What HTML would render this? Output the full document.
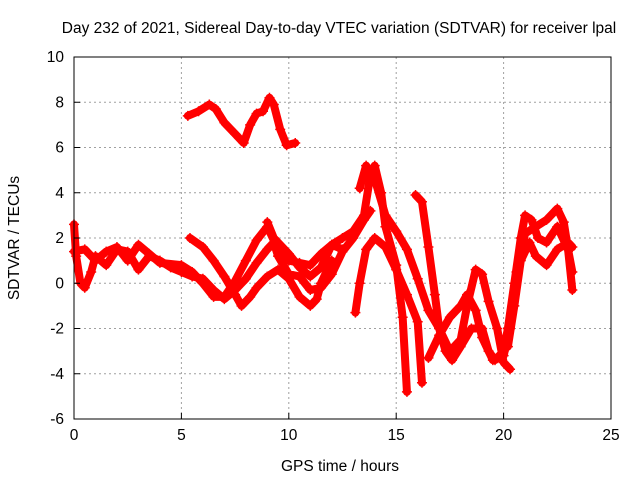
<!DOCTYPE html>
<html><head><meta charset="utf-8"><style>
body{margin:0;background:#fff;}
svg text{font-family:"Liberation Sans",sans-serif;font-size:15.5px;fill:#000;}
</style></head><body>
<svg width="640" height="480" xmlns="http://www.w3.org/2000/svg">
<rect width="640" height="480" fill="#fff"/>
<g id="grid"></g>
<g id="series"></g>
<rect x="74" y="57" width="537" height="362" fill="none" stroke="#000" stroke-width="1"/>
<g id="ticks"></g>
<text x="339" y="33" text-anchor="middle">Day 232 of 2021, Sidereal Day-to-day VTEC variation (SDTVAR) for receiver lpal</text>
<text x="340" y="471" text-anchor="middle">GPS time / hours</text>
<text x="19" y="238" text-anchor="middle" transform="rotate(-90 19 238)">SDTVAR / TECUs</text>
</svg>
<script>
const xTicks=[0,5,10,15,20,25];
const yTicks=[-6,-4,-2,0,2,4,6,8,10];
const track1=[[5.3,7.4],[5.8,7.6],[6.3,7.9],[6.6,7.7],[7.0,7.1],[7.5,6.6],[7.9,6.2],[8.2,7.0],[8.5,7.5],[8.8,7.6],[9.1,8.2],[9.3,7.9],[9.6,6.8],[9.9,6.1],[10.3,6.2]];
const track2=[[0,2.6],[0.1,1.2],[0.3,0],[0.5,-0.2],[0.8,0.5],[1,1.2],[1.5,0.8],[2,1.5],[2.5,1.4],[3,0.6],[3.5,1.2],[4,1.0],[4.5,0.7],[5,0.5],[5.5,0.3],[6,0.2],[6.5,-0.3],[7,-0.7],[7.5,-0.3],[8,0.2],[8.5,0.9],[9,1.5],[9.3,1.8],[9.5,1.2],[10,0.4],[10.5,0.3],[11,-0.3],[11.5,-0.2],[12,0.4],[12.5,1.4],[13,2.0],[13.5,2.8],[13.8,3.2]];
const track3=[[0,1.4],[0.5,1.5],[1,1.0],[1.5,1.4],[2,1.6],[2.5,1.0],[3,1.7],[3.5,1.3],[4,0.9],[5,0.8],[5.5,0.5],[6,0],[6.5,-0.6],[7,-0.6],[7.5,0.1],[8,1.0],[8.5,1.9],[9,2.5],[9.5,1.5],[10,1.0],[10.5,0.9],[11,0.8],[11.5,1.3],[12,1.7],[12.5,2.0],[13,2.3],[13.5,3.0],[13.8,4.8],[14,5.2],[14.3,4.0],[14.5,2.5],[15,0.8],[15.3,-1.5],[15.5,-4.8]];
const track4=[[5.4,2.0],[6,1.6],[6.5,1.0],[7,0.3],[7.5,-0.5],[7.8,-1.0],[8.2,-0.6],[8.5,-0.2],[9,0.3],[9.5,0.6],[10,0.2],[10.5,-0.6],[11,-1.0],[11.3,-0.7],[11.5,0.0],[12,1.0]];
const track5=[[9,2.7],[9.3,2.0],[10,1.3],[10.5,0.7],[11,0.3],[11.5,0.7],[12,1.7],[12.5,1.5]];
const track6=[[13.1,-1.3],[13.3,0],[13.6,1.5],[14,2.0],[14.5,1.6],[15,0.6],[15.5,-0.5],[16,-1.7],[16.2,-4.4]];
const track7=[[13.3,4.2],[13.6,5.2],[14,4.6],[14.5,3.0],[15,2.3],[15.5,1.5],[16,0.2],[16.5,-1.2],[17,-2.0],[17.3,-3.0],[17.6,-3.4],[18,-2.8],[18.5,-2.0],[19,-2.0],[19.3,-3.0],[19.6,-3.4],[20,-3.0],[20.2,-2.0],[20.5,0],[20.8,2.0],[21,3.0],[21.3,2.8],[21.6,2.0],[22,1.8],[22.5,2.5],[23,1.5],[23.2,0.5]];
const track8=[[15.9,3.9],[16.2,3.6],[16.5,1.6],[16.8,-0.5],[17,-2.0],[17.5,-3.0],[18,-2.5],[18.3,-1.0],[18.7,0.6],[19,0.4],[19.3,-0.8],[19.7,-2.0],[20,-3.5],[20.3,-3.8]];
const track9=[[16.5,-3.3],[17,-2.3],[17.5,-1.5],[18,-1.0],[18.3,-0.5],[18.7,-1.2],[19,-2.4],[19.5,-3.4],[20,-3.2],[20.3,-2.0],[20.6,0.5],[21,2.2],[21.5,2.5],[22,2.8],[22.5,3.3],[22.8,2.7],[23,1.5],[23.2,-0.3]];
const track10=[[20.2,-2.8],[20.5,-1],[20.8,1],[21.2,1.8],[21.5,1.2],[22,0.8],[22.5,1.5],[23,1.8],[23.2,1.6]];
const tracks=[track1,track2,track3,track4,track5,track6,track7,track8,track9,track10];

const X0=74,X1=611,Y0=419,Y1=57;
const sx=v=>X0+(v-0)/(25-0)*(X1-X0);
const sy=v=>Y0-(v+6)/16*(Y0-Y1);
const NS="http://www.w3.org/2000/svg";
const grid=document.getElementById('grid'),ticks=document.getElementById('ticks'),ser=document.getElementById('series');
function mk(tag,attrs,parent){const e=document.createElementNS(NS,tag);for(const k in attrs)e.setAttribute(k,attrs[k]);parent.appendChild(e);return e;}
xTicks.forEach(t=>{
  const x=sx(t);
  if(t>0&&t<25){const g=mk('line',{x1:x,x2:x,y1:Y0,y2:Y1,stroke:'#a0a0a0','stroke-dasharray':'2,3'},grid);
  
  }
  const tl=mk('line',{x1:x,x2:x,y1:Y0,y2:Y0-6,stroke:'#000'},ticks);
  
  
  const tx=mk('text',{x:x,y:Y0+21,'text-anchor':'middle'},ticks);tx.textContent=t;
  
  
});
yTicks.forEach(t=>{
  const y=sy(t);
  if(t>-6&&t<10){const g=mk('line',{x1:X0,x2:X1,y1:y,y2:y,stroke:'#a0a0a0','stroke-dasharray':'2,3'},grid);
  
  }
  const tl=mk('line',{x1:X0,x2:X0+6,y1:y,y2:y,stroke:'#000'},ticks);
  
  
  const tx=mk('text',{x:X0-10,y:y+5,'text-anchor':'end'},ticks);tx.textContent=t;
  
  
});
tracks.forEach((tr,i)=>{
  const pl=mk('polyline',{points:tr.map(p=>sx(p[0])+','+sy(p[1])).join(' '),fill:'none',stroke:'#ff0000','stroke-width':8,'stroke-linejoin':'round','stroke-linecap':'round'},ser);
  
  
  tr.forEach(p=>{
    const x=sx(p[0]),y=sy(p[1]);
    const m=mk('path',{d:`M${x-5},${y}H${x+5}M${x},${y-5}V${y+5}`,stroke:'#ff0000','stroke-width':1.5},ser);
    
    
  });
});
</script>
</body></html>
